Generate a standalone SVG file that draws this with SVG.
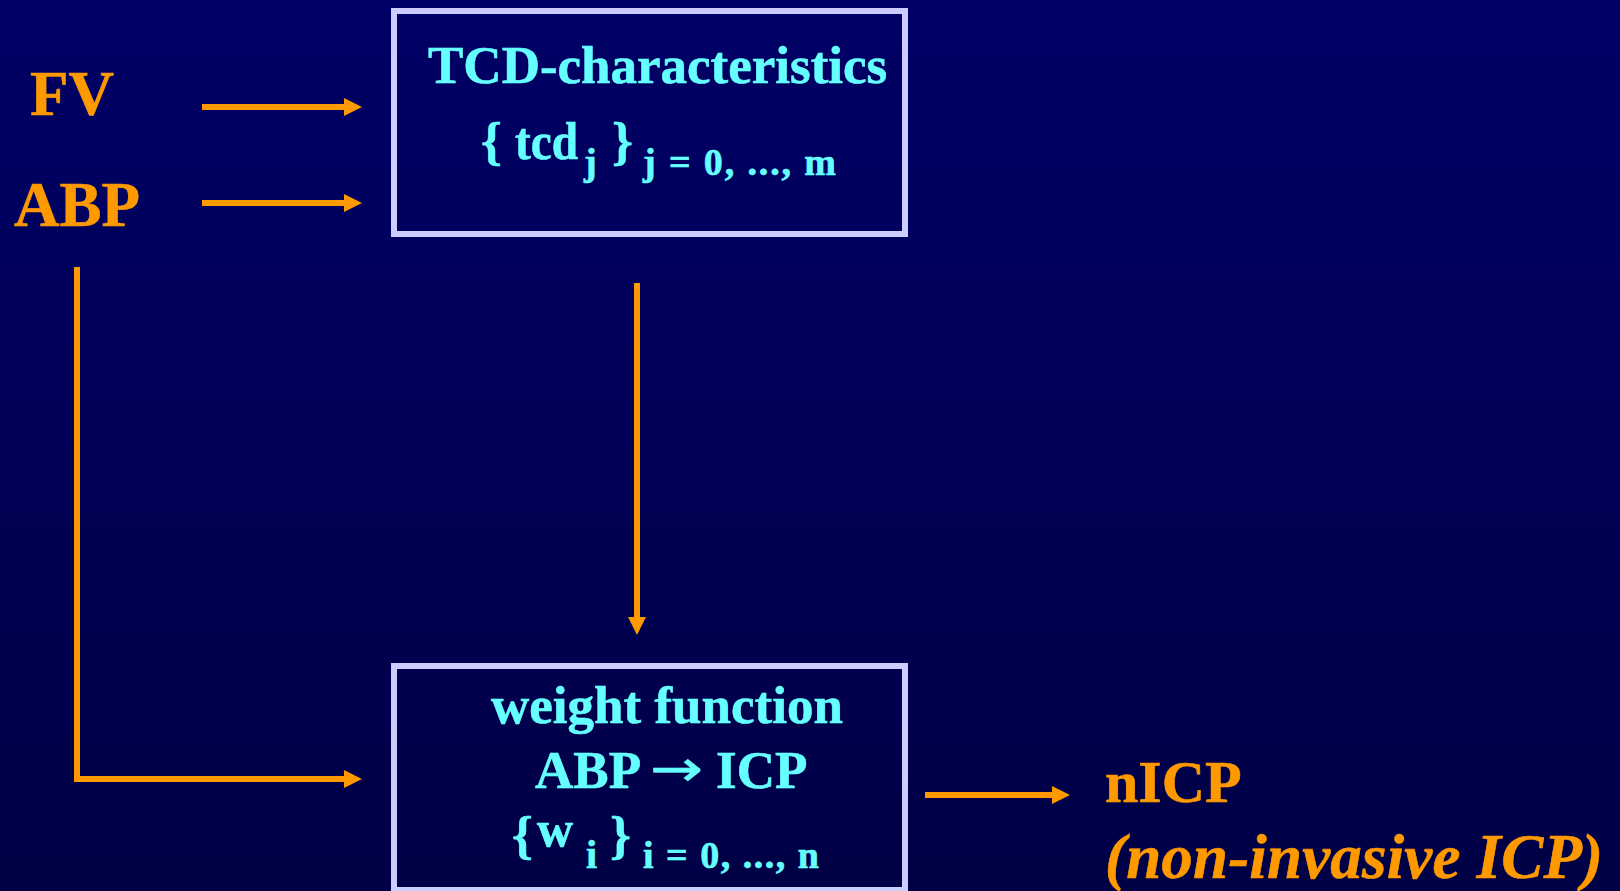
<svg xmlns="http://www.w3.org/2000/svg" width="1620" height="891" viewBox="0 0 1620 891">
  <defs>
    <linearGradient id="bg" x1="0" y1="0" x2="0" y2="1">
      <stop offset="0" stop-color="#000066"/>
      <stop offset="1" stop-color="#000046"/>
    </linearGradient>
    <marker id="ah" markerUnits="userSpaceOnUse" markerWidth="18" markerHeight="18" refX="0" refY="9" orient="auto" overflow="visible">
      <path d="M0,0 L18,9 L0,18 Z" fill="#FF9900"/>
    </marker>
    <style>
      .box { fill: none; stroke: #CCCCFF; stroke-width: 6; }
      .cy { fill: #66FFFF; stroke: #66FFFF; stroke-width: 0.6; font-family: "Liberation Serif", "DejaVu Serif", serif; font-weight: bold; }
      .or { fill: #FF9900; stroke: #FF9900; stroke-width: 0.6; font-family: "Liberation Serif", "DejaVu Serif", serif; font-weight: bold; }
      .arr { font-family: "DejaVu Sans", "Liberation Serif", sans-serif; font-weight: normal; }
      .conn { fill: none; stroke: #FF9900; stroke-width: 6; marker-end: url(#ah); }
    </style>
  </defs>
  <rect x="0" y="0" width="1620" height="891" fill="url(#bg)"/>

  <g id="connectors">
    <line class="conn" x1="202" y1="107" x2="344" y2="107"/>
    <line class="conn" x1="202" y1="203" x2="344" y2="203"/>
    <line class="conn" x1="637" y1="283" x2="637" y2="617"/>
    <polyline class="conn" points="77,267 77,779 344,779"/>
    <line class="conn" x1="925" y1="795" x2="1052" y2="795"/>
  </g>

  <g id="FV">
    <text class="or" x="30" y="115" font-size="63">FV</text>
  </g>
  <g id="ABP">
    <text class="or" x="14" y="226" font-size="63">ABP</text>
  </g>

  <g id="tcd">
    <rect class="box" x="394" y="11" width="511" height="223"/>
    <text class="cy" x="428" y="83" font-size="53">TCD-characteristics</text>
    <text class="cy" x="481" y="159" font-size="53">{</text>
    <text class="cy" x="515" y="159" font-size="53" textLength="63" lengthAdjust="spacingAndGlyphs">tcd</text>
    <text class="cy" x="584" y="175" font-size="38">j</text>
    <text class="cy" x="612" y="159" font-size="53">}</text>
    <text class="cy" x="643" y="175" font-size="38" textLength="193" lengthAdjust="spacing">j = 0, ..., m</text>
  </g>

  <g id="weight">
    <rect class="box" x="394" y="666" width="511" height="224"/>
    <text class="cy" x="491" y="723" font-size="53">weight function</text>
    <text class="cy" x="535" y="788" font-size="53">ABP</text>
    <text class="cy arr" x="650" y="786" font-size="50" textLength="53" lengthAdjust="spacingAndGlyphs">→</text>
    <text class="cy" x="716" y="788" font-size="53">ICP</text>
    <text class="cy" x="512" y="853" font-size="53">{</text>
    <text class="cy" x="537" y="846" font-size="50">w</text>
    <text class="cy" x="586" y="868" font-size="40">i</text>
    <text class="cy" x="610" y="853" font-size="53">}</text>
    <text class="cy" x="643" y="868" font-size="38" textLength="176" lengthAdjust="spacing">i = 0, ..., n</text>
  </g>

  <g id="nICP">
    <text class="or" x="1105" y="802" font-size="60">nICP</text>
    <text class="or" x="1105" y="878" font-size="63" font-style="italic" textLength="498" lengthAdjust="spacing">(non-invasive ICP)</text>
  </g>
</svg>
